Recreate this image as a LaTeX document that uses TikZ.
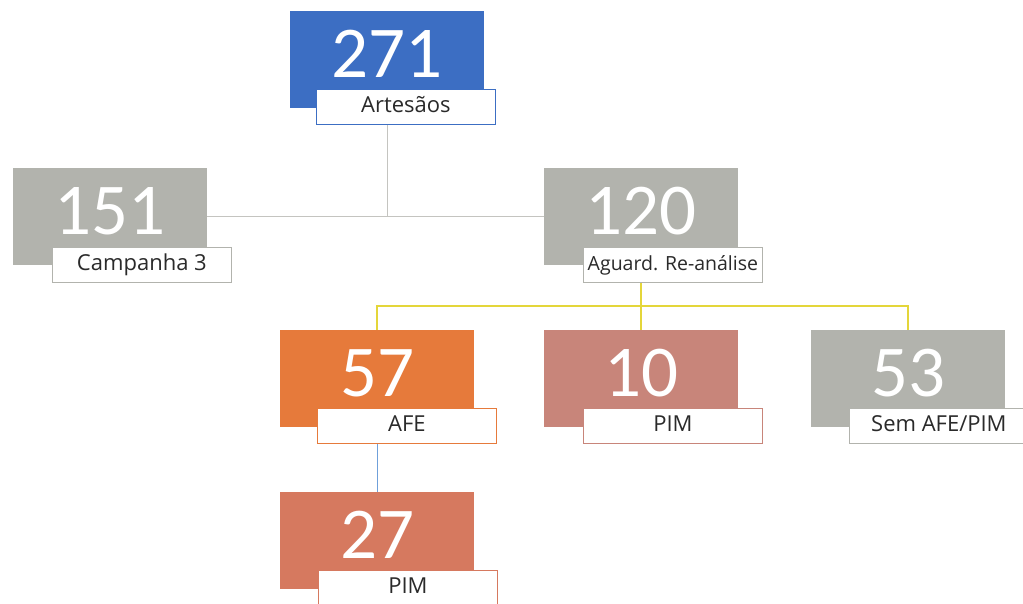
\documentclass[tikz,border=0pt]{standalone}
\usepackage{fontspec}
\setmainfont{Open Sans}
\newfontfamily\numfont{Carlito}
\definecolor{cBlue}{HTML}{3C6EC3}
\definecolor{cGray}{HTML}{B2B3AD}
\definecolor{cOrange}{HTML}{E67A3B}
\definecolor{cRose}{HTML}{C8857A}
\definecolor{cSalmon}{HTML}{D6795F}
\definecolor{cText}{HTML}{2A2A2A}
\definecolor{cGline}{HTML}{C4C4C0}
\definecolor{cYline}{HTML}{E4D63A}
\definecolor{cBline}{HTML}{6FA0DA}
\tikzset{
  numbox/.style={anchor=north west, minimum width=194, minimum height=97, inner sep=0,
    text height=47, text depth=12, text=white, font=\numfont\fontsize{73}{73}\selectfont},
  labbox/.style={anchor=north west, fill=white, line width=0.8pt, minimum width=179, minimum height=35,
    inner sep=0, text height=16, text depth=5, text=cText, font=\fontsize{22}{22}\selectfont},
  gline/.style={draw=cGline, line width=1pt},
  yline/.style={draw=cYline, line width=1.6pt},
  bline/.style={draw=cBline, line width=1.3pt}
}
\begin{document}
\begin{tikzpicture}[x=1pt,y=-1pt]
\clip (0,0) rectangle (1023,603);
\fill[white] (0,0) rectangle (1023,603);
% boxes
\node[numbox, fill=cBlue] (n271) at (290,11) {271};
\node[numbox, fill=cGray] (n151) at (13,168) {151};
\node[numbox, fill=cGray] (n120) at (544,168) {120};
\node[numbox, fill=cOrange] (n57) at (280,330) {57};
\node[numbox, fill=cRose] (n10) at (544,330) {10};
\node[numbox, fill=cGray] (n53) at (811,330) {53};
\node[numbox, fill=cSalmon] (n27) at (280,492) {27};
% labels
\node[labbox, draw=cBlue] (l271) at (316,89) {Artesãos};
\node[labbox, draw=cGray] (l151) at (52,247) {Campanha 3};
\node[labbox, draw=cGray, font=\fontsize{19.5}{19.5}\selectfont] (l120) at (583,247) {Aguard. Re-análise};
\node[labbox, draw=cOrange] (l57) at (317,408) {AFE};
\node[labbox, draw=cRose] (l10) at (583,408) {PIM};
\node[labbox, draw=cGray] (l53) at (849,408) {Sem AFE/PIM};
\node[labbox, draw=cSalmon] (l27) at (318,570) {PIM};
% connectors
\coordinate (gbus) at (0,216.5);
\coordinate (ybus) at (0,306);
\draw[gline] (n271.south |- l271.south) -- (n271.south |- gbus);
\draw[gline] (n151.east) -- (n120.west);
\draw[yline] (n120.south |- l120.south) -- (n120.south |- ybus);
\draw[yline] (n57.north) |- (n53.north |- ybus) -- (n53.north);
\draw[yline] (n10.north |- ybus) -- (n10.north);
\draw[bline] (n57.south |- l57.south) -- (n27.north);
\end{tikzpicture}
\end{document}
